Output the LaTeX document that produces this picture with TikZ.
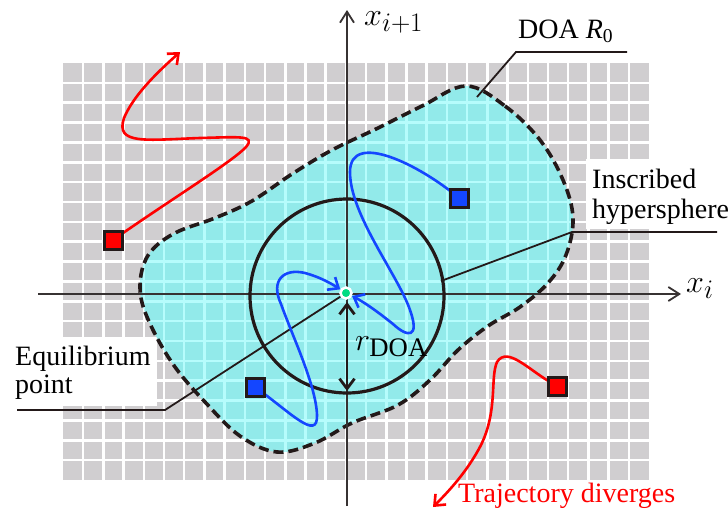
\documentclass[tikz,border=0pt]{standalone}
\usepackage{graphicx}
\usepackage{fontspec}
\setmainfont{Liberation Serif}
\usetikzlibrary{arrows.meta}
\definecolor{gridgray}{RGB}{208,206,208}
\definecolor{doacyan}{RGB}{146,234,234}
\definecolor{doaline}{RGB}{182,252,252}
\definecolor{trblue}{RGB}{20,70,255}
\definecolor{trred}{RGB}{255,0,0}
\definecolor{sqedge}{RGB}{35,25,25}
\definecolor{eqgreen}{RGB}{0,220,130}
\definecolor{axisgray}{RGB}{55,50,50}
\newcommand{\bigmath}[1]{\scalebox{1.29}{$#1$}}
\tikzset{
  axisline/.style={draw=axisgray, line width=1.8pt, -{Straight Barb[length=11pt,width=14pt,line width=1.8pt]}},
  traj/.style={line width=2.6pt, line cap=round, -{Straight Barb[length=9pt,width=15pt,line width=2.6pt]}},
  sqbox/.style={rectangle, draw=sqedge, line width=3pt, minimum size=18pt, inner sep=0pt},
  leader/.style={draw=sqedge, line width=1.8pt},
  lab/.style={anchor=base west, inner sep=0pt, font=\fontsize{28}{32}\selectfont},
  mlab/.style={anchor=base west, inner sep=0pt, font=\fontsize{24.88}{28}\selectfont},
}
\def\doapath{plot[smooth cycle, tension=0.6] coordinates {
 (466,86) (505,106) (540,140) (563,180) (573,218) (566,255) (548,283)
 (520,307) (488,326) (458,350) (430,380) (398,405) (352,423) (315,443)
 (277,452) (240,436) (205,402) (175,367) (153,330) (141,298) (142,270)
 (153,249) (177,232) (215,218) (252,201) (292,174) (332,150) (376,129) (422,106)}}
\begin{document}
\begin{tikzpicture}[x=1pt,y=-1pt]
\useasboundingbox (0,0) rectangle (728,514);
% background grid
\fill[gridgray] (63,63) rectangle (649,480);
\foreach \i in {1,...,28} \draw[white, line width=2.5pt] ({63+\i*20.207},63) -- ++(0,417);
\foreach \j in {1,...,20} \draw[white, line width=2.5pt] (63,{63+\j*19.857}) -- ++(586,0);
% label boxes
\fill[white] (586,159) rectangle (652,229);
\fill[white] (60,337) rectangle (157,406);
% DOA region
\begin{scope}
\clip \doapath;
\fill[doacyan] (63,63) rectangle (649,480);
\foreach \i in {1,...,28} \draw[doaline, line width=2.5pt] ({63+\i*20.207},63) -- ++(0,417);
\foreach \j in {1,...,20} \draw[doaline, line width=2.5pt] (63,{63+\j*19.857}) -- ++(586,0);
\end{scope}
\draw[sqedge, line width=3.6pt, dash pattern=on 10pt off 5pt] \doapath;
% axes
\coordinate (xs) at (38,294);
\coordinate (xe) at (681,294);
\coordinate (ys) at (347,506);
\coordinate (ye) at (347,10);
\draw[axisline] (xs) -- (xe);
\draw[axisline] (ys) -- (ye);
% inscribed circle
\coordinate (C) at (347,296);
\draw[sqedge, line width=3.2pt] (C) circle (97pt);
% equilibrium point
\node[circle, fill=eqgreen, draw=white, line width=2.5pt, minimum size=11pt, inner sep=0pt] (O) at (346,293) {};
% r_DOA arrow
\coordinate (rtop) at (347,302);
\coordinate (rbot) at (347,391);
\draw[sqedge, line width=2.8pt, {Straight Barb[length=10pt,width=15pt,line width=2.8pt]}-{Straight Barb[length=10pt,width=15pt,line width=2.8pt]}] (rtop) -- (rbot);
% leaders
\coordinate (doaT) at (477,97);
\coordinate (doaK) at (516,52);
\coordinate (doaE) at (627,52);
\draw[leader] (doaT) -- (doaK) -- (doaE);
\coordinate (insS) at (441,281);
\coordinate (insK) at (572,232);
\coordinate (insE) at (717,232);
\draw[leader] (insS) -- (insK) -- (insE);
\coordinate (eqS) at (17,410);
\coordinate (eqK) at (165,410);
\draw[leader] (eqS) -- (eqK) -- (O);
% squares (positions)
\node[sqbox, fill=trblue] (b1) at (459,198) {};
\node[sqbox, fill=trblue] (b2) at (255,387) {};
\node[sqbox, fill=trred] (r1) at (113,240) {};
\node[sqbox, fill=trred] (r2) at (557,386) {};
\coordinate (r1end) at (180,52);
\coordinate (r2end) at (433,507);
% trajectories
\draw[traj, trblue] (b1.center) .. controls (420,165) and (350,130) .. (350,172)
  .. controls (350,215) and (398,275) .. (410,310)
  .. controls (420,338) and (408,338) .. (393,324)
  .. controls (378,312) and (364,302) .. (O);
\draw[traj, trblue] (b2.center) .. controls (290,412) and (318,442) .. (317,415)
  .. controls (316,385) and (292,335) .. (281,304)
  .. controls (270,280) and (284,268) .. (305,273)
  .. controls (320,277) and (332,284) .. (O);
\draw[traj, trred] (r1.center) .. controls (170,200) and (232,162) .. (246,147)
  .. controls (256,135) and (240,137) .. (200,138)
  .. controls (145,140) and (115,145) .. (124,118)
  .. controls (134,94) and (160,70) .. (r1end);
\draw[traj, trred] (r2.center) .. controls (530,372) and (508,345) .. (497,362)
  .. controls (490,378) and (498,410) .. (481,445)
  .. controls (467,472) and (448,492) .. (r2end);
% redraw squares on top
\node[sqbox, fill=trblue] at (b1) {};
\node[sqbox, fill=trblue] at (b2) {};
\node[sqbox, fill=trred] at (r1) {};
\node[sqbox, fill=trred] at (r2) {};
% labels
\node[lab] (doalab) at (518,38) {DOA \textit{R}\textsubscript{0}};
\node[lab] (ins1) at (592,188) {Inscribed};
\node[lab] (ins2) at (592,218) {hypersphere};
\node[lab] (eq1) at (15,365) {Equilibrium};
\node[lab] (eq2) at (15,393) {point};
\node[lab, text=trred] (div) at (458,502) {Trajectory diverges};
\node[mlab] (xlab) at (686,292) {\bigmath{x_i}};
\node[mlab] (ylab) at (364,25) {\bigmath{x_{i+1}}};
\node[mlab] (rlab) at (355,350) {\bigmath{r_{\mathrm{DOA}}}};
\end{tikzpicture}
\end{document}
